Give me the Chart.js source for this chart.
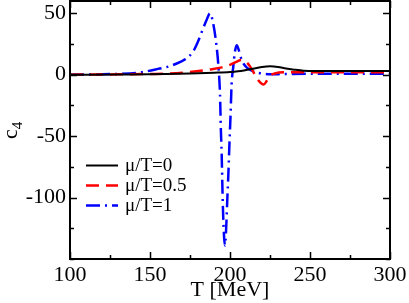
<!DOCTYPE html>
<html>
<head>
<meta charset="utf-8">
<script src="https://cdn.jsdelivr.net/npm/chart.js@4.4.1/dist/chart.umd.min.js"></script>
<style>
  html, body { margin: 0; padding: 0; background: #fff; }
  #wrap { width: 409px; height: 303px; position: relative; }
</style>
</head>
<body>
<div id="wrap"><canvas id="c4-chart"></canvas></div>
<script>
        // c4 vs T for three values of mu/T
        const tMu0 = [100, 130, 160, 175, 190, 200, 205, 210, 216, 220, 225, 230, 235, 240, 246, 255, 270, 300];
        const c4Mu0 = [0, 0.2, 0.5, 0.9, 1.6, 2.2, 2.8, 3.8, 5.2, 6.2, 6.8, 6.3, 5.0, 4.1, 3.3, 3.1, 3.0, 3.0];

        const tMu05 = [100, 130, 150, 162, 175, 187.5, 195, 200, 204, 207, 210, 212.5, 215.6, 218, 221, 223, 225, 228, 235, 300];
        const c4Mu05 = [0, 0.3, 0.6, 0.9, 2.2, 4.3, 6, 8, 10.5, 12, 10.5, 6.8, 0, -5, -8, -5, -1, 1, 2, 1.9];

        const tMu1 = [100, 125, 144, 156, 162.5, 169, 172, 177, 180, 183, 185.5, 187.5, 189.6, 191.7, 192.7, 193.75,
                      194.3, 194.8, 195.5, 196.3, 196.9, 197.5, 198.3, 199, 199.6, 200.4, 201, 202, 203, 204.2, 205.5,
                      207.3, 210, 212.5, 215, 218, 225, 235, 300];
        const c4Mu1 = [0, 0.5, 1.9, 5, 7, 10.5, 12.5, 19, 27, 37, 45, 50, 41, 22, 8, -16,
                       -45, -65, -105, -132, -139, -128, -102, -80, -58, -31, -8, 6, 18, 24, 20,
                       12, 6.5, 4, 2.5, 1.4, 0.3, 0.6, 0.8];

        const xMajor = [100, 150, 200, 250, 300];
        const yMajor = [-100, -50, 0, 50];
        const xMinorStep = 25;
        const yMinorStep = 25;

        const serif = '"Liberation Serif", "Times New Roman", serif';

        const toPoints = (xs, ys) => xs.map((t, i) => ({ x: t, y: ys[i] }));

        const frameAndExtras = {
            id: 'frameAndExtras',
            afterDraw(chart) {
                const { ctx, chartArea: a, scales: { x, y } } = chart;
                ctx.save();
                ctx.strokeStyle = '#000';
                ctx.lineWidth = 1.5;
                ctx.beginPath();
                for (let v = x.min; v <= x.max; v += xMinorStep) {
                    const px = Math.round(x.getPixelForValue(v)) + 0.5;
                    const len = xMajor.includes(v) ? 7 : 4;
                    ctx.moveTo(px, a.bottom); ctx.lineTo(px, a.bottom - len);
                    ctx.moveTo(px, a.top); ctx.lineTo(px, a.top + len);
                }
                for (let v = -150; v <= y.max; v += yMinorStep) {
                    const py = Math.round(y.getPixelForValue(v)) + 0.5;
                    const len = yMajor.includes(v) ? 7 : 4;
                    ctx.moveTo(a.left, py); ctx.lineTo(a.left + len, py);
                    ctx.moveTo(a.right, py); ctx.lineTo(a.right - len, py);
                }
                ctx.stroke();
                ctx.lineWidth = 2;
                ctx.strokeRect(a.left, a.top, a.right - a.left, a.bottom - a.top);

                // y title c_4, rotated
                ctx.fillStyle = '#000';
                ctx.translate(17, 139);
                ctx.rotate(-Math.PI / 2);
                ctx.textBaseline = 'alphabetic';
                ctx.textAlign = 'left';
                ctx.font = '22px ' + serif;
                ctx.fillText('c', 0, 0);
                const cw = ctx.measureText('c').width;
                ctx.font = '15px ' + serif;
                ctx.fillText('4', cw, 5);
                ctx.setTransform(1, 0, 0, 1, 0, 0);

                // legend
                ctx.font = '19px ' + serif;
                ctx.textBaseline = 'middle';
                chart.data.datasets.forEach((ds, i) => {
                    const ly = 165.5 + i * 20;
                    ctx.strokeStyle = ds.borderColor;
                    ctx.lineWidth = ds.borderWidth;
                    ctx.setLineDash(ds.borderDash || []);
                    ctx.beginPath();
                    ctx.moveTo(86, ly);
                    ctx.lineTo(118, ly);
                    ctx.stroke();
                    ctx.setLineDash([]);
                    ctx.fillText(ds.label, 125, ly + 1);
                });
                ctx.restore();
            }
        };

        const ctx = document.getElementById('c4-chart').getContext('2d');

        const c4Chart = new Chart(ctx, {
            type: 'line',
            data: {
                datasets: [{
                    label: 'μ/T=0',
                    data: toPoints(tMu0, c4Mu0),
                    borderColor: '#000000',
                    borderWidth: 2,
                    pointRadius: 0,
                    cubicInterpolationMode: 'monotone'
                }, {
                    label: 'μ/T=0.5',
                    data: toPoints(tMu05, c4Mu05),
                    borderColor: '#ff0000',
                    borderWidth: 2.5,
                    borderDash: [13, 7],
                    pointRadius: 0,
                    cubicInterpolationMode: 'monotone'
                }, {
                    label: 'μ/T=1',
                    data: toPoints(tMu1, c4Mu1),
                    borderColor: '#0000ff',
                    borderWidth: 2.5,
                    borderDash: [14, 5, 2, 5],
                    pointRadius: 0,
                    cubicInterpolationMode: 'monotone'
                }]
            },
            options: {
                responsive: true,
                maintainAspectRatio: false,
                animation: false,
                layout: {
                    padding: { top: 1, right: 19, left: 0, bottom: 0 }
                },
                plugins: {
                    legend: { display: false },
                    tooltip: { enabled: false }
                },
                scales: {
                    x: {
                        type: 'linear',
                        min: 100,
                        max: 300,
                        afterBuildTicks: s => { s.ticks = xMajor.map(v => ({ value: v })); },
                        afterFit: s => { s.height = 44; s.paddingLeft = 0; s.paddingRight = 0; },
                        grid: { display: false, drawTicks: false },
                        border: { display: false },
                        ticks: {
                            color: '#000',
                            padding: 3,
                            maxRotation: 0,
                            font: { family: serif, size: 22 }
                        },
                        title: {
                            display: true,
                            text: 'T [MeV]',
                            color: '#000',
                            font: { family: serif, size: 22 },
                            padding: { top: 0, bottom: 0 }
                        }
                    },
                    y: {
                        type: 'linear',
                        min: -150,
                        max: 60,
                        afterBuildTicks: s => { s.ticks = yMajor.map(v => ({ value: v })); },
                        afterFit: s => { s.width = 70; s.paddingTop = 0; s.paddingBottom = 0; },
                        grid: { display: false, drawTicks: false },
                        border: { display: false },
                        ticks: {
                            color: '#000',
                            padding: 4,
                            font: { family: serif, size: 22 }
                        }
                    }
                }
            },
            plugins: [frameAndExtras]
        });
</script>
</body>
</html>
